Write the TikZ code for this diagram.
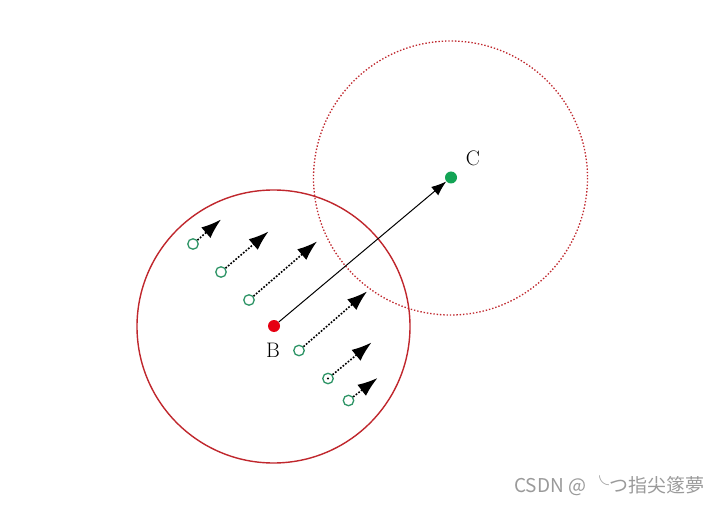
\documentclass[tikz,border=0pt]{standalone}
\usepackage{fontspec}
\usepackage{xcolor}
\usepackage{tikz}
\usetikzlibrary{arrows.meta}
\newfontfamily\cjkfont{Noto Sans CJK SC}
\definecolor{rimred}{HTML}{C0272D}
\definecolor{dotred}{HTML}{E60012}
\definecolor{dotgreen}{HTML}{13A455}
\definecolor{ringgreen}{HTML}{2E9466}
\definecolor{wmgray}{HTML}{9A9A9A}
\tikzset{
  rim/.style={draw=rimred, line width=1.4pt},
  dottedrim/.style={draw=rimred, line width=1.3pt, dash pattern=on 1.4pt off 1.9pt},
  line/.style={draw=black, line width=1pt, -{Latex[length=15pt,width=11pt]}},
  darrow/.style={draw=black, line width=1.6pt, dash pattern=on 1.7pt off 1.6pt, -{Latex[length=20pt,width=14pt]}},
  reddot/.style={circle, fill=dotred, inner sep=0pt, minimum size=12pt},
  greendot/.style={circle, fill=dotgreen, inner sep=0pt, minimum size=12pt},
  ring/.style={circle, draw=ringgreen, line width=1.3pt, inner sep=0pt, minimum size=10.5pt},
  lbl/.style={text=black, font=\fontsize{21}{24}\selectfont},
  wm/.style={text=wmgray, font=\cjkfont\fontsize{19}{22}\selectfont}
}
\begin{document}
\begin{tikzpicture}[x=1pt, y=-1pt]
  \useasboundingbox[fill=white] (0,0) rectangle (723,505);

  % the two regions
  \draw[rim] (273.5,326.5) circle (136.5);
  \draw[dottedrim] (450.5,178) circle (137);

  % centres
  \node[reddot] (B) at (274,326) {};
  \node[greendot] (C) at (451,177.5) {};
  \node[lbl] (Bl) at (273,350) {B};
  \node[lbl] (Cl) at (473,158) {C};
  \draw[line] (B) -- (C);

  % particles and their moves
  \node[ring] (p1) at (193,244) {};
  \node[ring] (p2) at (221,272) {};
  \node[ring] (p3) at (249,300) {};
  \node[ring] (p4) at (299,350.5) {};
  \node[ring] (p5) at (328,378.5) {};
  \node[ring] (p6) at (348.5,400.5) {};
  \coordinate (t1) at (221,219.5);
  \coordinate (t2) at (268.5,231.5);
  \coordinate (t3) at (317,241.5);
  \coordinate (t4) at (367,291.5);
  \coordinate (t5) at (371.5,342.5);
  \coordinate (t6) at (377.5,378);
  \foreach \i in {1,...,6}
    \draw[darrow] (p\i) -- (t\i);
  \fill[black] (p5) circle (1.2);

  \node[wm, anchor=east] (mark) at (708,486) {CSDN @ ╰つ指尖篴夢};
\end{tikzpicture}
\end{document}
